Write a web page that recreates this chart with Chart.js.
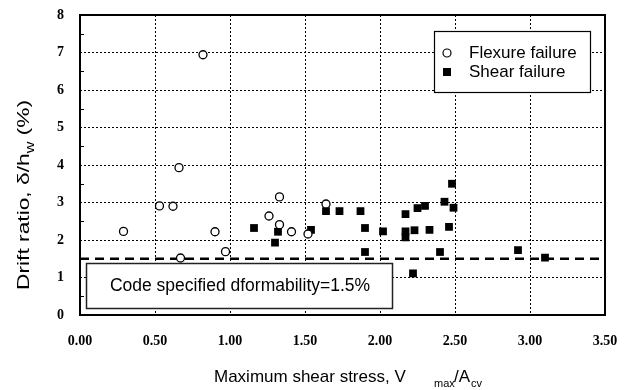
<!DOCTYPE html>
<html>
<head>
<meta charset="utf-8">
<script src="https://cdn.jsdelivr.net/npm/chart.js@4"></script>
<style>
  html, body { margin: 0; padding: 0; background: #fff; }
  #wrap { width: 627px; height: 390px; }
</style>
</head>
<body>
<div id="wrap"><canvas id="drift"></canvas></div>
<script>
// Flexure failure specimens (open circles): shear stress, drift ratio %
const flexureX = [0.29, 0.53, 0.62, 0.66, 0.67, 0.82, 0.90, 0.97, 1.26, 1.33, 1.33, 1.41, 1.52, 1.64];
const flexureY = [2.23, 2.91, 2.90, 3.93, 1.52, 6.94, 2.22, 1.69, 2.64, 3.15, 2.41, 2.22, 2.16, 2.96];

// Shear failure specimens (filled squares)
const shearX = [1.16, 1.30, 1.32, 1.54, 1.64, 1.73, 1.87, 1.90, 1.90, 2.02, 2.17, 2.17, 2.17,
                2.22, 2.23, 2.25, 2.30, 2.33, 2.40, 2.43, 2.46, 2.48, 2.49, 2.92, 3.10];
const shearY = [2.32, 1.93, 2.22, 2.27, 2.77, 2.77, 2.77, 2.32, 1.68, 2.23, 2.69, 2.23, 2.07,
                1.11, 2.26, 2.85, 2.91, 2.27, 1.68, 3.02, 2.35, 3.50, 2.86, 1.73, 1.53];

// code limit
const codeLimit = 1.5;
const xTicks = [0, 0.5, 1, 1.5, 2, 2.5, 3, 3.5];
const yTicks = [0, 1, 2, 3, 4, 5, 6, 7, 8];

const toPoints = (xs, ys) => xs.map((x, i) => ({ x: x, y: ys[i] }));

const sans = "'Liberation Sans', Arial, sans-serif";
const serif = "'Liberation Serif', 'Times New Roman', serif";

// frame, minor ticks, legend, note box and axis titles
const decorations = {
  id: "decorations",
  afterDraw(chart) {
    const ctx = chart.ctx;
    const area = chart.chartArea;
    const ys = chart.scales.y;

    ctx.save();
    ctx.strokeStyle = "#000";
    ctx.lineWidth = 2;
    ctx.strokeRect(area.left, area.top, area.right - area.left, area.bottom - area.top);

    // minor ticks on y axis
    ctx.lineWidth = 1;
    ctx.beginPath();
    for (let v = 0.5; v < 8; v += 1) {
      const py = Math.round(ys.getPixelForValue(v)) + 0.5;
      ctx.moveTo(area.left, py);
      ctx.lineTo(area.left + 4, py);
    }
    ctx.stroke();

    // legend
    ctx.fillStyle = "#fff";
    ctx.fillRect(434, 31, 156, 61);
    ctx.lineWidth = 1.2;
    ctx.strokeRect(434.5, 31.5, 156, 61);
    ctx.beginPath();
    ctx.arc(447, 53, 4, 0, Math.PI * 2);
    ctx.stroke();
    ctx.fillStyle = "#000";
    ctx.fillRect(443, 68, 8, 8);
    ctx.font = "17px " + sans;
    ctx.textBaseline = "middle";
    ctx.textAlign = "left";
    ctx.fillText("Flexure failure", 469, 53);
    ctx.fillText("Shear failure", 469, 72);

    // code limit note
    ctx.fillStyle = "#fff";
    ctx.fillRect(86, 263, 306, 45);
    ctx.lineWidth = 1.5;
    ctx.strokeStyle = "#222";
    ctx.strokeRect(86.5, 263.5, 306, 45);
    ctx.fillStyle = "#000";
    ctx.textAlign = "center";
    ctx.font = "17.5px " + sans;
    ctx.fillText("Code specified dformability=1.5%", 240, 286);

    // x title
    ctx.textAlign = "left";
    ctx.textBaseline = "alphabetic";
    const base = 382;
    ctx.font = "17px " + sans;
    ctx.fillText("Maximum shear stress, V", 214, base);
    ctx.font = "11px " + sans;
    ctx.fillText("max", 434, base + 5);
    ctx.font = "17px " + sans;
    ctx.fillText("/A", 454, base);
    ctx.font = "11px " + sans;
    ctx.fillText("cv", 471, base + 5);

    // y title, stretched to the length it has in the source
    ctx.translate(29, 195);
    ctx.rotate(-Math.PI / 2);
    const p1 = "Drift ratio, \u03b4/h";
    const p3 = " (%)";
    ctx.font = "17px " + sans;
    const w1 = ctx.measureText(p1).width;
    const w3 = ctx.measureText(p3).width;
    ctx.font = "12px " + sans;
    const w2 = ctx.measureText("w").width;
    const total = w1 + w2 + w3;
    ctx.scale(190 / total, 1);
    let tx = -total / 2;
    ctx.font = "17px " + sans;
    ctx.fillText(p1, tx, 0);
    tx += w1;
    ctx.font = "12px " + sans;
    ctx.fillText("w", tx, 5);
    tx += w2;
    ctx.font = "17px " + sans;
    ctx.fillText(p3, tx, 0);
    ctx.restore();
  }
};

const ctx = document.getElementById("drift").getContext("2d");
const driftChart = new Chart(ctx, {
  type: "scatter",
  data: {
    datasets: [
      {
        label: "Flexure failure",
        data: toPoints(flexureX, flexureY),
        pointStyle: "circle",
        pointRadius: 4,
        pointBorderWidth: 1.3,
        borderColor: "#000",
        backgroundColor: "#fff",
      },
      {
        label: "Shear failure",
        data: toPoints(shearX, shearY),
        pointStyle: "rect",
        pointRadius: 5.5,
        pointBorderWidth: 0,
        borderColor: "#000",
        backgroundColor: "#000",
      },
      {
        label: "Code limit",
        type: "line",
        data: [{ x: 0, y: codeLimit }, { x: 3.5, y: codeLimit }],
        borderColor: "#000",
        borderWidth: 2.5,
        borderDash: [9, 6],
        pointRadius: 0,
        fill: false,
      },
    ],
  },
  options: {
    responsive: true,
    maintainAspectRatio: false,
    animation: false,
    layout: { padding: { top: 15, right: 22, left: 0, bottom: 0 } },
    plugins: {
      legend: { display: false },
      tooltip: { enabled: false },
    },
    scales: {
      x: {
        type: "linear",
        min: 0,
        max: 3.5,
        afterBuildTicks: (scale) => { scale.ticks = xTicks.map(v => ({ value: v })); },
        afterFit: (scale) => {
          scale.height = 75;
          scale.paddingLeft = 0;
          scale.paddingRight = 0;
        },
        ticks: {
          padding: 18,
          color: "#000",
          font: { family: serif, size: 14, weight: "bold" },
          callback: (v) => Number(v).toFixed(2),
          maxRotation: 0,
        },
        grid: { color: "#000", lineWidth: 1, drawTicks: false },
        border: { display: false, dash: [2, 2] },
      },
      y: {
        type: "linear",
        min: 0,
        max: 8,
        afterBuildTicks: (scale) => { scale.ticks = yTicks.map(v => ({ value: v })); },
        afterFit: (scale) => {
          scale.width = 80;
          scale.paddingTop = 0;
          scale.paddingBottom = 0;
        },
        ticks: {
          padding: 16,
          color: "#000",
          font: { family: serif, size: 14, weight: "bold" },
        },
        grid: { color: "#000", lineWidth: 1, drawTicks: false },
        border: { display: false, dash: [2, 2] },
      },
    },
  },
  plugins: [decorations],
});
</script>
</body>
</html>
